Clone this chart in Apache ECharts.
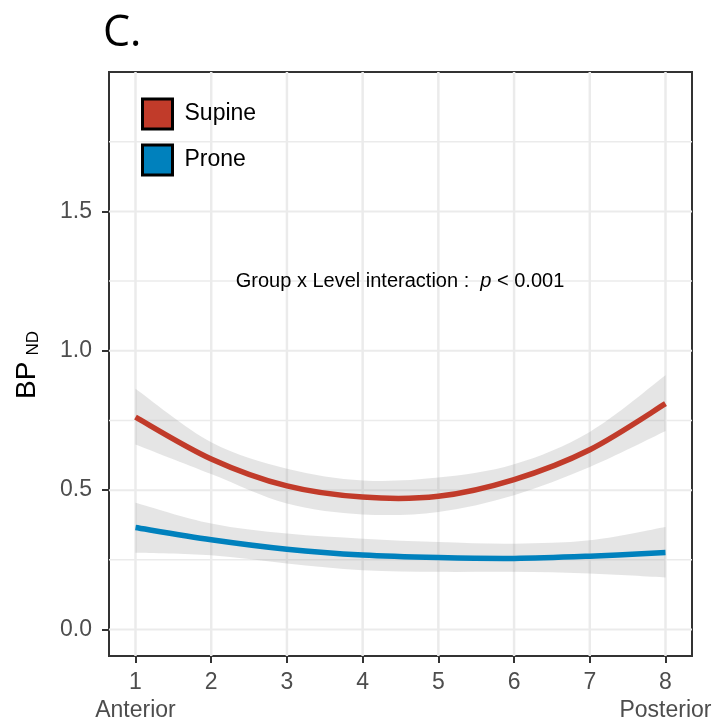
<!DOCTYPE html>
<html>
<head>
<meta charset="utf-8">
<script src="https://cdn.jsdelivr.net/npm/echarts@6/dist/echarts.min.js"></script>
<style>
  html, body { margin: 0; padding: 0; background: #fff; }
  #chart { width: 715px; height: 721px; }
</style>
</head>
<body>
<div id="chart"></div>
<script>
// spinal level, 1 = anterior, 8 = posterior
const levels = [1, 2, 3, 4, 5, 6, 7, 8];
const supineFit = [0.762, 0.612, 0.515, 0.475, 0.478, 0.538, 0.645, 0.810];
const supineLower = [0.664, 0.558, 0.452, 0.413, 0.422, 0.482, 0.583, 0.712];
const supineUpper = [0.864, 0.672, 0.577, 0.535, 0.545, 0.593, 0.709, 0.912];
const proneFit = [0.366, 0.322, 0.288, 0.267, 0.258, 0.255, 0.263, 0.276];
const proneLower = [0.275, 0.266, 0.237, 0.213, 0.207, 0.207, 0.201, 0.187];
const proneUpper = [0.455, 0.380, 0.344, 0.326, 0.314, 0.308, 0.320, 0.368];
const yTicks = [0, 0.5, 1, 1.5];
const yGrid = [0, 0.25, 0.5, 0.75, 1, 1.25, 1.5, 1.75];

const red = '#C13B2A';
const blue = '#0081BD';
const bandCol = 'rgba(153,153,153,0.25)';
const gridCol = '#ebebeb';

// catmull-rom through pixel points -> bezier path segments
function curve(pts) {
  let d = '';
  for (let i = 0; i < pts.length - 1; i++) {
    const p0 = pts[Math.max(i - 1, 0)], p1 = pts[i], p2 = pts[i + 1], p3 = pts[Math.min(i + 2, pts.length - 1)];
    const c1 = [p1[0] + (p2[0] - p0[0]) / 6, p1[1] + (p2[1] - p0[1]) / 6];
    const c2 = [p2[0] - (p3[0] - p1[0]) / 6, p2[1] - (p3[1] - p1[1]) / 6];
    d += ' C' + c1[0] + ' ' + c1[1] + ' ' + c2[0] + ' ' + c2[1] + ' ' + p2[0] + ' ' + p2[1];
  }
  return d;
}

// fitted curve + ribbon, drawn once (on the first item) through the axes
function fitSeries(name, color, fit, lower, upper) {
  return {
    name: name, type: 'custom', z: 3, silent: true,
    itemStyle: { color: color },
    data: levels.map((x, i) => [x, fit[i], lower[i], upper[i]]),
    renderItem: function (params, api) {
      if (params.dataIndex !== 0) return null;
      const top = levels.map((x, i) => api.coord([x, upper[i]]));
      const bot = levels.map((x, i) => api.coord([x, lower[i]])).reverse();
      const mid = levels.map((x, i) => api.coord([x, fit[i]]));
      const band = 'M' + top[0][0] + ' ' + top[0][1] + curve(top) +
        ' L' + bot[0][0] + ' ' + bot[0][1] + curve(bot) + ' Z';
      const line = 'M' + mid[0][0] + ' ' + mid[0][1] + curve(mid);
      return {
        type: 'group',
        children: [
          { type: 'path', z2: 1, shape: { pathData: band }, style: { fill: bandCol } },
          {
            type: 'path', z2: 2, shape: { pathData: line },
            style: { stroke: color, lineWidth: 5.5, fill: null, lineCap: 'butt' }
          }
        ]
      };
    }
  };
}

const chart = echarts.init(document.getElementById('chart'), null, { renderer: 'canvas' });

chart.setOption({
  animation: false,
  backgroundColor: '#fff',
  textStyle: { fontFamily: 'Liberation Sans' },
  title: {
    text: 'C.',
    left: 98, top: 7,
    textStyle: { fontFamily: 'Open Sans', fontSize: 43, fontWeight: 'normal', color: '#000' }
  },
  legend: {
    z: 10,
    orient: 'vertical',
    left: 141, top: 97.5, padding: 0,
    itemWidth: 30, itemHeight: 30, itemGap: 13,
    textStyle: { fontSize: 23, lineHeight: 30, color: '#000', padding: [0, 0, 0, 7] },
    data: [
      { name: 'Supine', icon: 'rect', itemStyle: { color: red, borderColor: '#000', borderWidth: 3 } },
      { name: 'Prone', icon: 'rect', itemStyle: { color: blue, borderColor: '#000', borderWidth: 3 } }
    ],
    selectedMode: false
  },
  grid: {
    left: 109, right: 23, top: 72, bottom: 65,
    outerBoundsMode: 'none',
    show: true, borderColor: '#333', borderWidth: 2, backgroundColor: 'transparent'
  },
  xAxis: {
    type: 'value', min: 0.65, max: 8.35,
    axisLine: { show: false, onZero: false },
    splitLine: { show: false },
    axisTick: { show: true, length: 7, customValues: levels, lineStyle: { color: '#333', width: 2 } },
    axisLabel: {
      customValues: levels, margin: 13, color: '#4d4d4d', fontSize: 23, lineHeight: 28,
      formatter: v => v === 1 ? '1\nAnterior' : (v === 8 ? '8\nPosterior' : String(v))
    }
  },
  yAxis: {
    type: 'value', min: -0.095, max: 2.0,
    axisLine: { show: false, onZero: false },
    splitLine: { show: false },
    axisTick: { show: true, length: 7, customValues: yTicks, lineStyle: { color: '#333', width: 2 } },
    axisLabel: {
      customValues: yTicks, margin: 17, color: '#4d4d4d', fontSize: 23,
      formatter: v => v.toFixed(1)
    }
  },
  graphic: [
    {
      type: 'text', z: 100, left: 13, top: 331, rotation: Math.PI / 2,
      style: {
        text: '{a|BP}{b|ND}',
        rich: {
          a: { fontSize: 28, fill: '#000', fontFamily: 'Liberation Sans' },
          b: { fontSize: 17, fill: '#000', fontFamily: 'Liberation Sans', padding: [12, 0, 0, 6] }
        }
      }
    },
    {
      type: 'text', z: 100, x: 400, y: 281,
      style: {
        text: '{n|Group x Level interaction :  }{i|p}{n| < 0.001}',
        align: 'center', verticalAlign: 'middle',
        rich: {
          n: { fontSize: 20, fill: '#000', fontFamily: 'Liberation Sans' },
          i: { fontSize: 20, fill: '#000', fontFamily: 'Liberation Sans', fontStyle: 'italic' }
        }
      }
    }
  ],
  series: [
    {
      name: 'vgrid', type: 'custom', z: 1, silent: true,
      data: levels,
      renderItem: function (params, api) {
        const cs = params.coordSys;
        const x = api.coord([api.value(0), 0])[0];
        return {
          type: 'line',
          shape: { x1: x, y1: cs.y, x2: x, y2: cs.y + cs.height },
          style: { stroke: gridCol, lineWidth: 2.5 }
        };
      }
    },
    {
      name: 'hgrid', type: 'custom', z: 1, silent: true,
      data: yGrid.map(v => [1, v]),
      renderItem: function (params, api) {
        const cs = params.coordSys;
        const y = api.coord([1, api.value(1)])[1];
        const major = yTicks.indexOf(api.value(1)) >= 0;
        return {
          type: 'line',
          shape: { x1: cs.x, y1: y, x2: cs.x + cs.width, y2: y },
          style: { stroke: gridCol, lineWidth: major ? 2 : 1.5 }
        };
      }
    },
    fitSeries('Supine', red, supineFit, supineLower, supineUpper),
    fitSeries('Prone', blue, proneFit, proneLower, proneUpper)
  ]
});
</script>
</body>
</html>
